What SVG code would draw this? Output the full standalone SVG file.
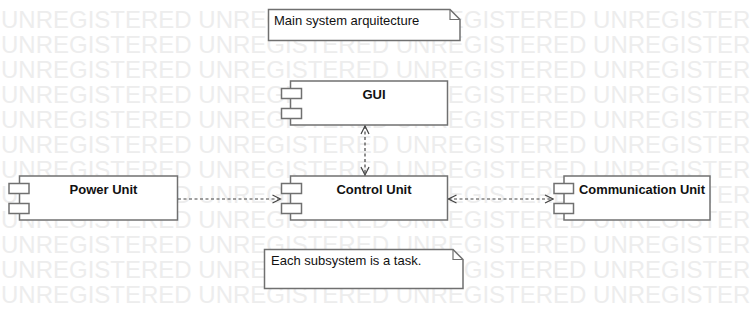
<svg xmlns="http://www.w3.org/2000/svg" width="750" height="330" viewBox="0 0 750 330">
  <style>
    .wm { font-family: "Liberation Sans", Arial, sans-serif; font-size: 24px; fill: #ededed; }
    .box { fill: #ffffff; stroke: #707070; stroke-width: 1.5; }
    .port { fill: #ffffff; stroke: #707070; stroke-width: 1.5; }
    .note { fill: #ffffff; stroke: #707070; stroke-width: 1.5; }
    .fold { fill: none; stroke: #707070; stroke-width: 1.2; }
    .title { font-family: "Liberation Sans", Arial, sans-serif; font-size: 13px; font-weight: bold; fill: #111; text-anchor: middle; }
    .txt { font-family: "Liberation Sans", Arial, sans-serif; font-size: 13px; fill: #111; }
    .dep { fill: none; stroke: #444; stroke-width: 1.2; stroke-dasharray: 3 2.5; }
  </style>
  <defs>
    <marker id="open" viewBox="0 0 10 10" refX="9" refY="5" markerWidth="10" markerHeight="10" markerUnits="userSpaceOnUse" orient="auto-start-reverse">
      <path d="M1,1 L9,5 L1,9" fill="none" stroke="#444" stroke-width="1.2"/>
    </marker>
  </defs>

  <rect width="750" height="330" fill="#ffffff"/>

  <!-- background watermark rows -->
  <g id="watermark" class="wm">
    <text x="1" y="28">UNREGISTERED UNREGISTERED UNREGISTERED UNREGISTERED</text>
    <text x="1" y="53">UNREGISTERED UNREGISTERED UNREGISTERED UNREGISTERED</text>
    <text x="1" y="78">UNREGISTERED UNREGISTERED UNREGISTERED UNREGISTERED</text>
    <text x="1" y="103">UNREGISTERED UNREGISTERED UNREGISTERED UNREGISTERED</text>
    <text x="1" y="128">UNREGISTERED UNREGISTERED UNREGISTERED UNREGISTERED</text>
    <text x="1" y="153">UNREGISTERED UNREGISTERED UNREGISTERED UNREGISTERED</text>
    <text x="1" y="178">UNREGISTERED UNREGISTERED UNREGISTERED UNREGISTERED</text>
    <text x="1" y="203">UNREGISTERED UNREGISTERED UNREGISTERED UNREGISTERED</text>
    <text x="1" y="228">UNREGISTERED UNREGISTERED UNREGISTERED UNREGISTERED</text>
    <text x="1" y="253">UNREGISTERED UNREGISTERED UNREGISTERED UNREGISTERED</text>
    <text x="1" y="278">UNREGISTERED UNREGISTERED UNREGISTERED UNREGISTERED</text>
    <text x="1" y="303">UNREGISTERED UNREGISTERED UNREGISTERED UNREGISTERED</text>
  </g>

  <!-- notes -->
  <g id="note-main">
    <path class="note" d="M268.5,9.5 H450 L460,19.5 V40.5 H268.5 Z"/>
    <path class="fold" d="M450,9.5 V19.5 H460"/>
    <text class="txt" x="274" y="25">Main system arquitecture</text>
  </g>
  <g id="note-task">
    <path class="note" d="M264.5,249.5 H453 L463,259.5 V288.5 H264.5 Z"/>
    <path class="fold" d="M453,249.5 V259.5 H463"/>
    <text class="txt" x="271" y="265">Each subsystem is a task.</text>
  </g>

  <!-- components -->
  <g id="gui">
    <rect class="box" x="290.5" y="81" width="157" height="44"/>
    <rect class="port" x="281.5" y="88.5" width="20" height="10"/>
    <rect class="port" x="281.5" y="108.5" width="20" height="10"/>
    <text class="title" x="374" y="99">GUI</text>
  </g>
  <g id="power-unit">
    <rect class="box" x="19.5" y="176" width="158" height="44"/>
    <rect class="port" x="9" y="183.5" width="20" height="10"/>
    <rect class="port" x="9" y="203.5" width="20" height="10"/>
    <text class="title" x="103.5" y="194">Power Unit</text>
  </g>
  <g id="control-unit">
    <rect class="box" x="290.5" y="176" width="157" height="44"/>
    <rect class="port" x="281.5" y="183.5" width="20" height="10"/>
    <rect class="port" x="281.5" y="203.5" width="20" height="10"/>
    <text class="title" x="374" y="194">Control Unit</text>
  </g>
  <g id="communication-unit">
    <rect class="box" x="564" y="176" width="146" height="44"/>
    <rect class="port" x="554" y="183.5" width="19.5" height="10"/>
    <rect class="port" x="554" y="203.5" width="19.5" height="10"/>
    <text class="title" x="642" y="194" textLength="126" lengthAdjust="spacingAndGlyphs">Communication Unit</text>
  </g>

  <!-- dependencies -->
  <g id="connectors">
    <path class="dep" d="M365,126 V175" marker-start="url(#open)" marker-end="url(#open)"/>
    <path class="dep" d="M178,199 H280.5" marker-end="url(#open)"/>
    <path class="dep" d="M448.5,199 H553" marker-start="url(#open)" marker-end="url(#open)"/>
  </g>
</svg>
